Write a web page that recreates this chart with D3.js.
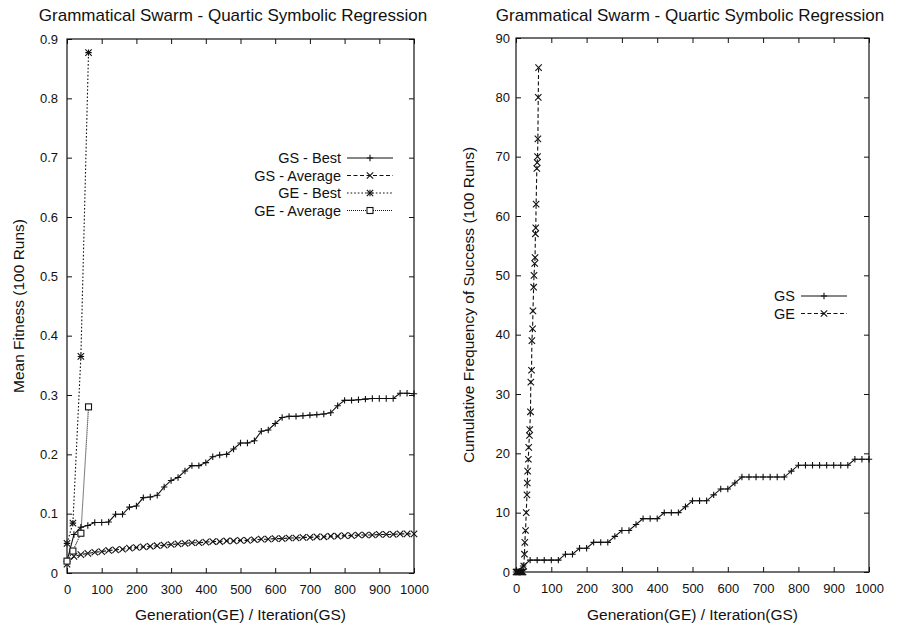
<!DOCTYPE html>
<html>
<head>
<meta charset="utf-8">
<script src="https://cdn.jsdelivr.net/npm/d3@7"></script>
<style>
  body { margin: 0; background: #fff; }
  text { font-family: "Liberation Sans", Arial, Helvetica, sans-serif; fill: #111; }
</style>
</head>
<body>
<svg id="chart" width="897" height="627"></svg>
<script>
// GS sampled every 20 iterations
const gsIter = [0, 20, 40, 60, 80, 100, 120, 140, 160, 180, 200, 220, 240, 260, 280, 300, 320, 340, 360, 380, 400,
  420, 440, 460, 480, 500, 520, 540, 560, 580, 600, 620, 640, 660, 680, 700, 720, 740, 760, 780, 800,
  820, 840, 860, 880, 900, 920, 940, 960, 980, 1000];
const gsBest = [0.020, 0.065, 0.077, 0.080, 0.085, 0.085, 0.086, 0.099, 0.099, 0.111, 0.113, 0.127, 0.128, 0.131, 0.145, 0.156, 0.161, 0.172, 0.181, 0.181, 0.186,
  0.196, 0.199, 0.200, 0.209, 0.219, 0.219, 0.223, 0.239, 0.241, 0.252, 0.262, 0.264, 0.264, 0.265, 0.266, 0.267, 0.268, 0.270, 0.282, 0.291,
  0.291, 0.292, 0.293, 0.294, 0.294, 0.294, 0.294, 0.303, 0.303, 0.302];
const gsAvg = [0.015, 0.028, 0.031, 0.033, 0.035, 0.036, 0.038, 0.039, 0.040, 0.042, 0.043, 0.044, 0.045, 0.046, 0.047, 0.048, 0.049, 0.050, 0.051, 0.051, 0.052,
  0.053, 0.053, 0.054, 0.054, 0.055, 0.055, 0.056, 0.057, 0.057, 0.058, 0.058, 0.059, 0.059, 0.060, 0.060, 0.061, 0.061, 0.062, 0.062, 0.063,
  0.063, 0.064, 0.064, 0.064, 0.065, 0.065, 0.065, 0.066, 0.066, 0.066];
const gsSuccess = [0, 1, 2, 2, 2, 2, 2, 3, 3, 4, 4, 5, 5, 5, 6, 7, 7, 8, 9, 9, 9,
  10, 10, 10, 11, 12, 12, 12, 13, 14, 14, 15, 16, 16, 16, 16, 16, 16, 16, 17, 18,
  18, 18, 18, 18, 18, 18, 18, 19, 19, 19];

// GE
const geGen = [0, 17, 40, 62];
const geBest = [0.05, 0.084, 0.365, 0.877];
const geAvg = [0.02, 0.037, 0.067, 0.28];
const geSuccGen = [0, 2, 4, 6, 8, 10, 12, 14, 16, 18, 20, 22, 24, 25, 27, 29, 31, 32, 33, 35, 36, 38, 39, 41, 42,
  44, 45, 47, 48, 50, 51, 53, 54, 55, 56, 57, 59, 60, 61, 62, 63, 64];
const geSuccess = [0, 0, 0, 0, 0, 0, 0, 0, 0, 0, 0, 1, 3, 5, 7, 10, 13, 15, 17, 19, 21, 23, 24, 27, 32,
  34, 39, 41, 44, 48, 50, 52, 53, 57, 58, 62, 68, 69, 70, 73, 80, 85];

const xTicks = [0, 100, 200, 300, 400, 500, 600, 700, 800, 900, 1000];
const leftYTicks = [0, 0.1, 0.2, 0.3, 0.4, 0.5, 0.6, 0.7, 0.8, 0.9];
const rightYTicks = [0, 10, 20, 30, 40, 50, 60, 70, 80, 90];

const title = 'Grammatical Swarm - Quartic Symbolic Regression';
const xLabel = 'Generation(GE) / Iteration(GS)';

const svg = d3.select('#chart');
const ink = '#111';

// marker shapes
const marker = (g, type, cx, cy) => {
  const s = 3.2;
  if (type === 'plus' || type === 'star') {
    g.append('path').attr('d', `M${cx - s},${cy}H${cx + s}M${cx},${cy - s}V${cy + s}`);
  }
  if (type === 'cross' || type === 'star') {
    g.append('path').attr('d', `M${cx - s},${cy - s}L${cx + s},${cy + s}M${cx - s},${cy + s}L${cx + s},${cy - s}`);
  }
  if (type === 'square') {
    g.append('rect').attr('x', cx - 3).attr('y', cy - 3).attr('width', 6).attr('height', 6).attr('fill', '#fff');
  }
};

const dashes = { solid: null, dashed: '4,2.5', dotted: '1.6,2', fine: '1,1' };

const drawPanel = opts => {
  const { left, right, top, bottom } = opts;
  const x = d3.scaleLinear().domain([0, 1000]).range([left, right]);
  const y = d3.scaleLinear().domain(opts.yDomain).range([bottom, top]);
  const g = svg.append('g');

  const axis = (a, tr) => g.append('g').attr('transform', tr).call(a)
    .call(s => s.select('.domain').remove())
    .call(s => s.selectAll('line').attr('stroke', ink))
    .call(s => s.selectAll('text').style('font-size', '13px').attr('fill', ink));

  axis(d3.axisBottom(x).tickValues(xTicks).tickSize(-5).tickPadding(12).tickFormat(d3.format('d')), `translate(0,${bottom})`);
  axis(d3.axisTop(x).tickValues(xTicks).tickSize(-5).tickFormat(''), `translate(0,${top})`);
  axis(d3.axisLeft(y).tickValues(opts.yTicks).tickSize(-5).tickPadding(opts.yPad).tickFormat(opts.yFormat), `translate(${left},0)`);
  axis(d3.axisRight(y).tickValues(opts.yTicks).tickSize(-5).tickFormat(''), `translate(${right},0)`);

  g.append('rect').attr('x', left).attr('y', top).attr('width', right - left).attr('height', bottom - top)
    .attr('fill', 'none').attr('stroke', ink).attr('stroke-width', 1.2);

  // series
  opts.series.forEach(s => {
    const pts = s.xs.map((v, i) => [x(v), y(s.ys[i])]);
    g.append('path').attr('d', d3.line()(pts)).attr('fill', 'none').attr('stroke', ink)
      .attr('stroke-width', 1.1).attr('stroke-dasharray', dashes[s.dash]);
    const mg = g.append('g').attr('stroke', ink).attr('stroke-width', 1.1).attr('fill', 'none');
    pts.forEach(p => marker(mg, s.mark, p[0], p[1]));
  });

  // legend
  opts.series.forEach((s, i) => {
    const ly = opts.legend.y + i * opts.legend.dy;
    g.append('text').attr('x', opts.legend.x).attr('y', ly).attr('dy', '0.35em')
      .attr('text-anchor', 'end').style('font-size', '14.5px').text(s.name);
    const x0 = opts.legend.x + 6, x1 = x0 + 46;
    g.append('path').attr('d', `M${x0},${ly}H${x1}`).attr('stroke', ink).attr('stroke-width', 1.1)
      .attr('stroke-dasharray', dashes[s.dash]);
    const mg = g.append('g').attr('stroke', ink).attr('stroke-width', 1.1).attr('fill', 'none');
    marker(mg, s.mark, (x0 + x1) / 2, ly);
  });

  g.append('text').attr('x', opts.titleX).attr('y', 21).attr('text-anchor', 'middle')
    .style('font-size', '17px').text(title);
  g.append('text').attr('x', (left + right) / 2).attr('y', 620).attr('text-anchor', 'middle')
    .style('font-size', '15.5px').text(xLabel);
  g.append('text').attr('transform', `translate(${opts.yLabelX},${(top + bottom) / 2}) rotate(-90)`)
    .attr('text-anchor', 'middle').attr('dy', '0.35em').style('font-size', '15.5px').text(opts.yLabel);
};

drawPanel({
  left: 67, right: 414, top: 39, bottom: 573, titleX: 233,
  yDomain: [0, 0.9], yTicks: leftYTicks, yPad: 9,
  yFormat: d => d === 0 ? '0' : d3.format('.1f')(d),
  yLabel: 'Mean Fitness (100 Runs)', yLabelX: 19,
  legend: { x: 341, y: 158, dy: 17.5 },
  series: [
    { name: 'GS - Best', xs: gsIter, ys: gsBest, dash: 'solid', mark: 'plus' },
    { name: 'GS - Average', xs: gsIter, ys: gsAvg, dash: 'dashed', mark: 'cross' },
    { name: 'GE - Best', xs: geGen, ys: geBest, dash: 'dotted', mark: 'star' },
    { name: 'GE - Average', xs: geGen, ys: geAvg, dash: 'fine', mark: 'square' }
  ]
});

drawPanel({
  left: 516, right: 869, top: 38, bottom: 572, titleX: 690,
  yDomain: [0, 90], yTicks: rightYTicks, yPad: 6,
  yFormat: d3.format('d'),
  yLabel: 'Cumulative Frequency of Success (100 Runs)', yLabelX: 469,
  legend: { x: 795, y: 296, dy: 17.5 },
  series: [
    { name: 'GS', xs: gsIter, ys: gsSuccess, dash: 'solid', mark: 'plus' },
    { name: 'GE', xs: geSuccGen, ys: geSuccess, dash: 'dashed', mark: 'cross' }
  ]
});
</script>
</body>
</html>
